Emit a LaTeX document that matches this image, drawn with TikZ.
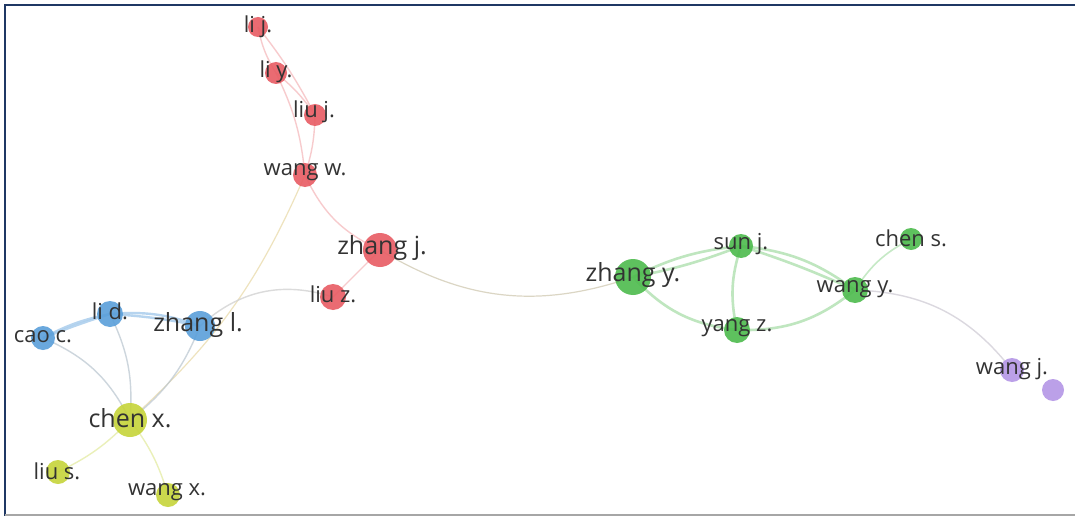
\documentclass[tikz,border=0pt]{standalone}
\usepackage{fontspec}
\setmainfont{Open Sans}
\definecolor{rnode}{HTML}{E85C63}
\definecolor{bnode}{HTML}{5A9FDA}
\definecolor{ynode}{HTML}{C6D43A}
\definecolor{gnode}{HTML}{4DBB4D}
\definecolor{pnode}{HTML}{B496E6}
\definecolor{txt}{HTML}{333333}
\definecolor{frame}{HTML}{1F3864}
\tikzset{
  dot/.style={circle,inner sep=0pt,draw=none,fill opacity=0.9},
  lbl/.style={text=txt,font=\fontsize{22}{22}\selectfont,inner sep=0pt},
  biglbl/.style={text=txt,font=\fontsize{25}{25}\selectfont,inner sep=0pt},
  redge/.style={draw=rnode!45,line width=1.4pt,opacity=0.7},
  bedge/.style={draw=bnode!55,line width=2.4pt,opacity=0.8},
  bthin/.style={draw=bnode!35!gray!50,line width=1.4pt,opacity=0.7},
  yedge/.style={draw=ynode!50,line width=1.4pt,opacity=0.7},
  gedge/.style={draw=gnode!45,line width=2.6pt,opacity=0.8},
  gthin/.style={draw=gnode!40,line width=1.6pt,opacity=0.8},
  mixedge/.style={draw=gray!35,line width=1.4pt,opacity=0.8},
}
\begin{document}
\begin{tikzpicture}[x=1pt,y=-1pt]
\useasboundingbox (0,0) rectangle (1075,516);
\fill[white] (0,0) rectangle (1075,516);
% node circles (coordinates)
\coordinate (lij) at (258,27);
\coordinate (liy) at (276,73);
\coordinate (liuj) at (315,115);
\coordinate (wangw) at (305,175);
\coordinate (zhangj) at (380,250);
\coordinate (liuz) at (333,297);
\coordinate (lid) at (110,314);
\coordinate (zhangl) at (200,326);
\coordinate (caoc) at (43,338);
\coordinate (chenx) at (130,420);
\coordinate (lius) at (58,472);
\coordinate (wangx) at (168,495);
\coordinate (zhangy) at (633,277);
\coordinate (sunj) at (741,246);
\coordinate (yangz) at (737,330);
\coordinate (wangy) at (855,290);
\coordinate (chens) at (911,239);
\coordinate (wangj) at (1012,370);
\coordinate (extra) at (1053,390);
% edges
\draw[redge] (lij) to[bend right=10] (liy);
\draw[redge] (lij) to[bend left=5] (liuj);
\draw[redge] (liy) to[bend left=8] (liuj);
\draw[redge] (liy) to[bend left=10] (wangw);
\draw[redge] (liuj) to[bend left=8] (wangw);
\draw[redge] (wangw) to[bend right=20] (zhangj);
\draw[draw=rnode!30!ynode,line width=1.2pt,opacity=0.35] (wangw) to[bend left=12] (chenx);
\draw[redge] (zhangj) to (liuz);
\draw[draw=rnode!50!gnode,line width=1.2pt,opacity=0.35] (zhangj) to[bend right=25] (zhangy);
\draw[mixedge] (liuz) to[bend right=30] (zhangl);
\draw[bedge] (caoc) to[bend left=8] (lid);
\draw[bedge] (caoc) to[bend left=2] (lid);
\draw[bedge] (lid) to[bend left=12] (zhangl);
\draw[bedge] (lid) to[bend left=4] (zhangl);
\draw[bthin] (caoc) to[bend left=20] (chenx);
\draw[bthin] (lid) to[bend left=15] (chenx);
\draw[bthin] (zhangl) to[bend left=15] (chenx);
\draw[yedge] (chenx) to[bend left=10] (lius);
\draw[yedge] (chenx) to[bend left=10] (wangx);
\draw[gedge] (zhangy) to[bend left=10] (sunj);
\draw[gedge] (zhangy) to[bend right=5] (sunj);
\draw[gedge] (zhangy) to[bend right=20] (yangz);
\draw[gedge] (sunj) to[bend right=15] (yangz);
\draw[gedge] (sunj) to[bend left=15] (wangy);
\draw[gedge] (sunj) to[bend left=3] (wangy);
\draw[gedge] (yangz) to[bend right=20] (wangy);
\draw[gthin] (wangy) to[bend left=15] (chens);
\draw[draw=pnode!30!gray!40,line width=1.4pt,opacity=0.8] (wangy) to[bend left=25] (wangj);
% circles
\node[dot,fill=rnode,minimum size=20pt] (n-lij) at (lij) {};
\node[dot,fill=rnode,minimum size=22pt] (n-liy) at (liy) {};
\node[dot,fill=rnode,minimum size=22pt] (n-liuj) at (liuj) {};
\node[dot,fill=rnode,minimum size=24pt] (n-wangw) at (wangw) {};
\node[dot,fill=rnode,minimum size=34pt] (n-zhangj) at (zhangj) {};
\node[dot,fill=rnode,minimum size=26pt] (n-liuz) at (liuz) {};
\node[dot,fill=bnode,minimum size=26pt] (n-lid) at (lid) {};
\node[dot,fill=bnode,minimum size=30pt] (n-zhangl) at (zhangl) {};
\node[dot,fill=bnode,minimum size=24pt] (n-caoc) at (caoc) {};
\node[dot,fill=ynode,minimum size=34pt] (n-chenx) at (chenx) {};
\node[dot,fill=ynode,minimum size=24pt] (n-lius) at (lius) {};
\node[dot,fill=ynode,minimum size=24pt] (n-wangx) at (wangx) {};
\node[dot,fill=gnode,minimum size=36pt] (n-zhangy) at (zhangy) {};
\node[dot,fill=gnode,minimum size=24pt] (n-sunj) at (sunj) {};
\node[dot,fill=gnode,minimum size=26pt] (n-yangz) at (yangz) {};
\node[dot,fill=gnode,minimum size=26pt] (n-wangy) at (wangy) {};
\node[dot,fill=gnode,minimum size=22pt] (n-chens) at (chens) {};
\node[dot,fill=pnode,minimum size=24pt] (n-wangj) at (wangj) {};
\node[dot,fill=pnode,minimum size=22pt] (n-extra) at (extra) {};
% labels
\node[lbl] (t-lij) at (258,27) {li j.};
\node[lbl] (t-liy) at (276,72) {li y.};
\node[lbl] (t-liuj) at (314,112) {liu j.};
\node[lbl] (t-wangw) at (305,172) {wang w.};
\node[biglbl] (t-zhangj) at (382,248) {zhang j.};
\node[lbl] (t-liuz) at (333,294) {liu z.};
\node[lbl] (t-lid) at (110,311) {li d.};
\node[biglbl] (t-zhangl) at (198,325) {zhang l.};
\node[lbl] (t-caoc) at (43,337) {cao c.};
\node[biglbl] (t-chenx) at (130,418) {chen x.};
\node[lbl] (t-lius) at (57,471) {liu s.};
\node[lbl] (t-wangx) at (167,492) {wang x.};
\node[biglbl] (t-zhangy) at (633,275) {zhang y.};
\node[lbl] (t-sunj) at (741,244) {sun j.};
\node[lbl] (t-yangz) at (737,328) {yang z.};
\node[lbl] (t-wangy) at (855,289) {wang y.};
\node[lbl] (t-chens) at (911,238) {chen s.};
\node[lbl] (t-wangj) at (1012,369) {wang j.};
% frame
\draw[frame,line width=2.2pt] (5,516) -- (5,5) -- (1075,5);
\draw[gray!70,line width=1.5pt] (5,515) -- (1075,515);
\end{tikzpicture}
\end{document}
